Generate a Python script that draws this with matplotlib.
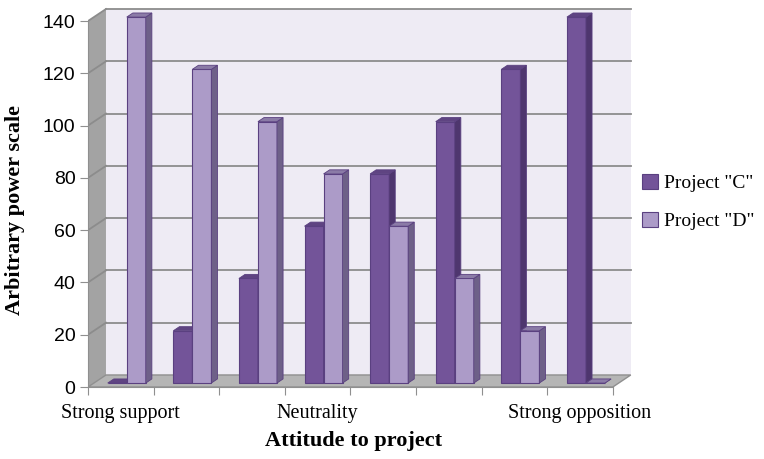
import matplotlib.pyplot as plt
from matplotlib.patches import Polygon

categories = ['Strong support', '', '', 'Neutrality', '', '', '', 'Strong opposition']
project_c = [0, 20, 40, 60, 80, 100, 120, 140]
project_d = [140, 120, 100, 80, 60, 40, 20, 0]
yticks = [0, 20, 40, 60, 80, 100, 120, 140]

# depth of the 3-D box (in data units) and where the bars sit inside it
DX, DY = 0.274, 4.6
d_front, d_back = 0.33, 0.67
bar_w = 0.29
n = len(categories)
ymax = 140

c_cols = ('#735499', '#4e366e', '#5f4482')   # front, side, top
d_cols = ('#ac9bc8', '#6e6088', '#8b7ba7')
edge = '#5a4080'
grid_col = '#8c8c8c'

fig = plt.figure(figsize=(7.64, 4.59), dpi=100)
ax = fig.add_axes([88 / 764, 72 / 459, 8.3 * 65.6 / 764, 146 * 2.614 / 459])
ax.set_xlim(0, 8.3)
ax.set_ylim(0, 146)

# walls and floor
ax.add_patch(Polygon([(DX, DY), (n + DX, DY), (n + DX, ymax + DY), (DX, ymax + DY)],
                     closed=True, facecolor='#eeebf4', edgecolor='none', zorder=0))
ax.add_patch(Polygon([(0, 0), (DX, DY), (DX, ymax + DY), (0, ymax)],
                     closed=True, facecolor='#a3a3a3', edgecolor='none', zorder=0.5))
ax.add_patch(Polygon([(0, 0), (n, 0), (n + DX, DY), (DX, DY)],
                     closed=True, facecolor='#b5b5b5', edgecolor='#8f8f8f', lw=1, zorder=1))
for v in yticks[1:]:
    ax.plot([DX, n + DX], [v + DY, v + DY], color=grid_col, lw=1.3, zorder=0.8)
    ax.plot([0, DX], [v, v + DY], color=grid_col, lw=1.3, zorder=0.8)

# front faces of the bars
x0 = [i + 0.5 - bar_w + d_front * DX for i in range(n)]
bottom = d_front * DY
bars_c = ax.bar(x0, project_c, width=bar_w, bottom=bottom, align='edge',
                color=c_cols[0], edgecolor=edge, lw=0.8, label='Project "C"')
bars_d = ax.bar([x + bar_w for x in x0], project_d, width=bar_w, bottom=bottom, align='edge',
                color=d_cols[0], edgecolor=edge, lw=0.8, label='Project "D"')

ddx = (d_back - d_front) * DX
ddy = (d_back - d_front) * DY


def add_depth(bar, cols, z):
    x, w, b, h = bar.get_x(), bar.get_width(), bar.get_y(), bar.get_height()
    bar.set_zorder(z)
    side = Polygon([(x + w, b), (x + w + ddx, b + ddy), (x + w + ddx, b + h + ddy), (x + w, b + h)],
                   closed=True, facecolor=cols[1], edgecolor=edge, lw=0.6, zorder=z)
    top = Polygon([(x, b + h), (x + w, b + h), (x + w + ddx, b + h + ddy), (x + ddx, b + h + ddy)],
                  closed=True, facecolor=cols[2], edgecolor=edge, lw=0.6, zorder=z)
    ax.add_patch(side)
    ax.add_patch(top)


for i in range(n):
    add_depth(bars_c[i], c_cols, 3 + 2 * i)
    add_depth(bars_d[i], d_cols, 4 + 2 * i)

# axes, ticks and labels
for s in ['top', 'right']:
    ax.spines[s].set_visible(False)
ax.spines['left'].set_bounds(0, ymax)
ax.spines['bottom'].set_bounds(0, n)
ax.spines['left'].set_color('#8f8f8f')
ax.spines['bottom'].set_color('#8f8f8f')
ax.spines['left'].set_zorder(2)
ax.spines['bottom'].set_zorder(2)

ax.set_yticks(yticks)
ax.set_yticklabels([str(v) for v in yticks], fontsize=14, family='Liberation Sans')
ax.tick_params(axis='y', length=6, color='#8f8f8f', pad=3)
ax.set_xticks(range(n + 1))
ax.set_xticklabels([''] * (n + 1))
ax.tick_params(axis='x', which='major', length=6, color='#8f8f8f')
ax.set_xticks([i + 0.5 for i in range(n)], minor=True)
ax.set_xticklabels(categories, minor=True, fontsize=14.5, family='Liberation Serif')
ax.tick_params(axis='x', which='minor', length=0, pad=12)

ax.set_ylabel('Arbitrary power scale', fontsize=16, family='Liberation Serif',
              fontweight='bold')
ax.set_xlabel('Attitude to project', fontsize=16, family='Liberation Serif',
              fontweight='bold')
ax.yaxis.set_label_coords(-0.115, 0.465)
ax.xaxis.set_label_coords(0.488, -0.115)

fig.legend(handles=[bars_c, bars_d], loc='center left', bbox_to_anchor=(642 / 764, 1 - 202 / 459),
           frameon=False, prop={'family': 'Liberation Serif', 'size': 14},
           handlelength=0.8, handleheight=0.8, handletextpad=0.35, labelspacing=1.0,
           borderaxespad=0, borderpad=0)

fig.savefig('out.png', dpi=100)
